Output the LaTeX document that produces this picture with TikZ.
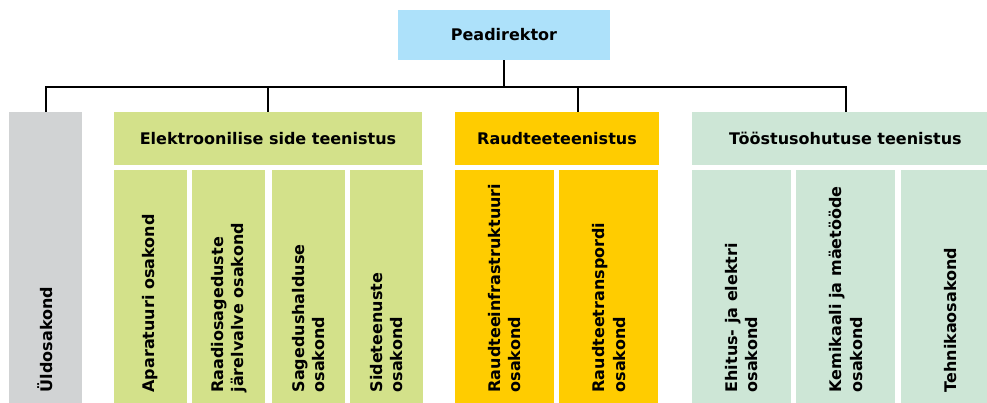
\documentclass[tikz,border=0pt]{standalone}
\usepackage{fontspec}
\setmainfont{DejaVu Sans}
\usetikzlibrary{positioning}
\definecolor{chiefblue}{RGB}{173,225,250}
\definecolor{generalgrey}{RGB}{209,211,212}
\definecolor{commgreen}{RGB}{211,225,138}
\definecolor{railyellow}{RGB}{255,204,0}
\definecolor{safetymint}{RGB}{205,230,214}
\tikzset{
  x=1pt,y=1pt,
  unit/.style={inner sep=0pt,minimum height=53pt,font=\bfseries\fontsize{16}{20.5}\selectfont},
  dept/.style={inner sep=0pt,minimum height=235pt},
  vlabel/.style={rotate=90,anchor=west,align=left,inner sep=0pt,font=\bfseries\fontsize{16}{20.5}\selectfont},
  conn/.style={line width=2pt},
}
\begin{document}
\begin{tikzpicture}
		\useasboundingbox (0,0) rectangle (987,-403);
		\clip (0,0) rectangle (987,-403);
		\node[unit,fill=chiefblue,minimum width=212pt,minimum height=50pt] (chief) at (504,-35) {Peadirektor};
		% osakonnad ja teenistused
		\node[inner sep=0pt,fill=generalgrey,minimum width=73pt,minimum height=293pt] (general) at (45.5,-258.5) {};
		\node[unit,fill=commgreen,minimum width=308pt] (comm) at (268,-138.5) {Elektroonilise side teenistus};
		\node[unit,fill=railyellow,minimum width=204pt] (rail) at (557,-138.5) {Raudteeteenistus};
		\node[unit,fill=safetymint,minimum width=307pt] (safety) at (845.5,-138.5) {Tööstusohutuse teenistus};
		% elektroonilise side osakonnad
		\node[dept,fill=commgreen,minimum width=73pt,anchor=north west] (apparatus) at ([yshift=-5pt]comm.south west) {};
		\node[dept,fill=commgreen,minimum width=73pt,right=5pt of apparatus] (radio) {};
		\node[dept,fill=commgreen,minimum width=73pt,right=6pt of radio] (frequency) {};
		\node[dept,fill=commgreen,minimum width=73pt,right=5pt of frequency] (services) {};
		% raudtee osakonnad
		\node[dept,fill=railyellow,minimum width=99pt,anchor=north west] (infra) at ([yshift=-5pt]rail.south west) {};
		\node[dept,fill=railyellow,minimum width=99pt,right=5pt of infra] (transport) {};
		% tööstusohutuse osakonnad
		\node[dept,fill=safetymint,minimum width=99pt,anchor=north west] (building) at ([yshift=-5pt]safety.south west) {};
		\node[dept,fill=safetymint,minimum width=99pt,right=5pt of building] (chemical) {};
		\node[dept,fill=safetymint,minimum width=99pt,right=5pt of chemical] (technical) {};
		% sildid
		\node[vlabel] (generalL) at ([yshift=13pt]general.south) {Üldosakond};
		\node[vlabel] (apparatusL) at ([yshift=13pt]apparatus.south) {Aparatuuri osakond};
		\node[vlabel] (radioL) at ([yshift=13pt]radio.south) {Raadiosageduste\\järelvalve osakond};
		\node[vlabel] (frequencyL) at ([yshift=13pt]frequency.south) {Sagedushalduse\\osakond};
		\node[vlabel] (servicesL) at ([yshift=13pt]services.south) {Sideteenuste\\osakond};
		\node[vlabel] (infraL) at ([yshift=13pt]infra.south) {Raudteeinfrastruktuuri\\osakond};
		\node[vlabel] (transportL) at ([yshift=13pt]transport.south) {Raudteetranspordi\\osakond};
		\node[vlabel] (buildingL) at ([yshift=13pt]building.south) {Ehitus- ja elektri\\osakond};
		\node[vlabel] (chemicalL) at ([yshift=13pt]chemical.south) {Kemikaali ja mäetööde\\osakond};
		\node[vlabel] (technicalL) at ([yshift=13pt]technical.south) {Tehnikaosakond};
		% ühendused
		\draw[conn] (chief.south) -- ++(0,-27) -| (general.north);
		\draw[conn] (chief.south) -- ++(0,-27) -| (comm.north);
		\draw[conn] (chief.south) -- ++(0,-27) -| ([xshift=21pt]rail.north);
		\draw[conn] (chief.south) -- ++(0,-27) -| (safety.north);
	\end{tikzpicture}
\end{document}
